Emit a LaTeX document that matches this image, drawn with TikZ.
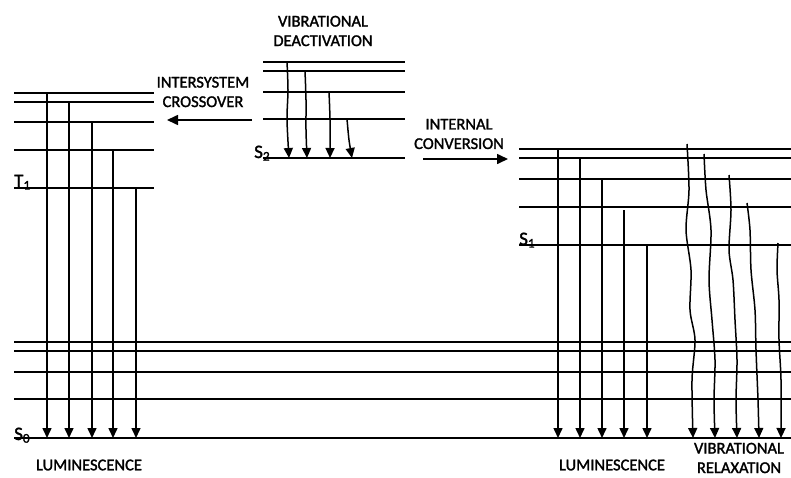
\documentclass[tikz,border=0pt]{standalone}
\usepackage{fontspec}
\setmainfont{Carlito}
\newfontfamily\lblfont{Carlito}[RawFeature={embolden=1.6}]
\usetikzlibrary{arrows.meta}
\begin{document}
\begin{tikzpicture}[x=1pt,y=-1pt,
  level/.style={line width=1.8pt},
  trans/.style={line width=1.5pt,-{Triangle[length=10pt,width=9pt]}},
  wavy/.style={line width=1.5pt,-{Triangle[length=10pt,width=9pt]}},
  side/.style={line width=1.6pt,-{Triangle[length=11pt,width=10pt]}},
  lbl/.style={font=\lblfont\fontsize{16.5}{19.5}\selectfont, align=center, inner sep=0pt},
  state/.style={font=\lblfont\fontsize{19}{19}\selectfont, inner sep=0pt, anchor=base west}]
\useasboundingbox (0,0) rectangle (791,477);
% energy levels
\foreach \y in {93,102,122,150,188} \draw[level] (14,\y) -- (154,\y);
\foreach \y in {62,71,92,119,158} \draw[level] (263,\y) -- (405,\y);
\foreach \y in {149,158,179,207,245} \draw[level] (519,\y) -- (791,\y);
\foreach \y in {342,351,372,399,438} \draw[level] (14,\y) -- (791,\y);
% state labels
\node[state] (t1) at (14,187) {T\textsubscript{1}};
\node[state] (s2) at (254,158) {S\textsubscript{2}};
\node[state] (s1) at (519,245) {S\textsubscript{1}};
\node[state] (s0) at (14,440) {S\textsubscript{0}};
% left luminescence
\foreach \x/\y in {47/93,69/102,92/121,113/150,136/188}
  \draw[trans] (\x,\y) -- (\x,438);
% right luminescence
\foreach \x/\y in {558/149,580/158,602/179,624/210,647/245}
  \draw[trans] (\x,\y) -- (\x,438);
% vibrational deactivation (S2)
\draw[wavy] plot[smooth] coordinates {(287,62) (288,90) (287,120) (289,158)};
\draw[wavy] plot[smooth] coordinates {(305,71) (306,100) (306,130) (307,158)};
\draw[wavy] plot[smooth] coordinates {(329,92) (330,120) (330,158)};
\draw[wavy] plot[smooth] coordinates {(347,119) (349,140) (352,158)};
% vibrational relaxation (S1)
\draw[wavy] plot[smooth] coordinates {(687,144) (689,190) (686,230) (691,270) (690,310) (695,340) (692,380) (693,438)};
\draw[wavy] plot[smooth] coordinates {(704,154) (706,190) (711,230) (709,280) (712,320) (715,360) (714,400) (715,438)};
\draw[wavy] plot[smooth] coordinates {(729,175) (731,210) (729,250) (733,280) (735,320) (737,360) (736,400) (737,438)};
\draw[wavy] plot[smooth] coordinates {(747,203) (750,230) (751,270) (755,310) (756,350) (758,400) (759,438)};
\draw[wavy] plot[smooth] coordinates {(778,243) (777,270) (779,300) (779,340) (781,380) (781,438)};
% process labels
\node[lbl] (vd) at (323,31) {VIBRATIONAL\\DEACTIVATION};
\node[lbl] (isc) at (203,92) {INTERSYSTEM\\CROSSOVER};
\node[lbl] (ic) at (459,134) {INTERNAL\\CONVERSION};
\node[lbl] (lumL) at (89,465) {LUMINESCENCE};
\node[lbl] (lumR) at (612,465) {LUMINESCENCE};
\node[lbl] (vr) at (739,458) {VIBRATIONAL\\RELAXATION};
% side arrows
\coordinate (iscA) at (252,120);
\coordinate (iscB) at (167,120);
\coordinate (icA) at (423,159);
\coordinate (icB) at (508,159);
\draw[side] (iscA) -- (iscB);
\draw[side] (icA) -- (icB);
\end{tikzpicture}
\end{document}
